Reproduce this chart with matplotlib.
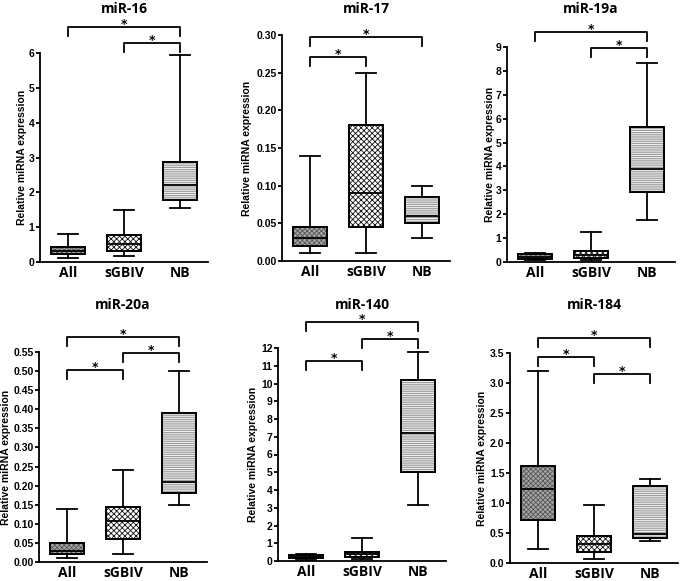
import matplotlib
matplotlib.use("Agg")
import matplotlib.pyplot as plt
from matplotlib.patches import PathPatch
from matplotlib.transforms import blended_transform_factory

# ---------------- data ----------------
categories = ['All', 'sGBIV', 'NB']
titles = ['miR-16', 'miR-17', 'miR-19a', 'miR-20a', 'miR-140', 'miR-184']

# each entry: [whisker low, Q1, median, Q3, whisker high] for All, sGBIV, NB
mir16 = [[0.11, 0.24, 0.33, 0.43, 0.81],
         [0.16, 0.33, 0.52, 0.77, 1.48],
         [1.55, 1.77, 2.22, 2.87, 5.93]]
mir17 = [[0.010, 0.020, 0.030, 0.045, 0.140],
         [0.010, 0.045, 0.090, 0.180, 0.250],
         [0.030, 0.050, 0.060, 0.085, 0.100]]
mir19a = [[0.10, 0.14, 0.21, 0.32, 0.39],
          [0.07, 0.18, 0.28, 0.46, 1.25],
          [1.75, 2.93, 3.90, 5.65, 8.35]]
mir20a = [[0.010, 0.020, 0.030, 0.050, 0.140],
          [0.020, 0.060, 0.108, 0.145, 0.240],
          [0.150, 0.180, 0.210, 0.390, 0.500]]
mir140 = [[0.05, 0.15, 0.25, 0.33, 0.40],
          [0.10, 0.25, 0.40, 0.50, 1.30],
          [3.15, 5.00, 7.20, 10.20, 11.75]]
mir184 = [[0.23, 0.71, 1.23, 1.62, 3.20],
          [0.06, 0.18, 0.32, 0.45, 0.97],
          [0.36, 0.41, 0.49, 1.28, 1.40]]

yticks16 = [0, 1, 2, 3, 4, 5, 6]
yticks17 = [0.00, 0.05, 0.10, 0.15, 0.20, 0.25, 0.30]
yticks19a = [0, 1, 2, 3, 4, 5, 6, 7, 8, 9]
yticks20a = [0.00, 0.05, 0.10, 0.15, 0.20, 0.25, 0.30, 0.35, 0.40, 0.45, 0.50, 0.55]
yticks140 = [0, 1, 2, 3, 4, 5, 6, 7, 8, 9, 10, 11, 12]
yticks184 = [0.0, 0.5, 1.0, 1.5, 2.0, 2.5, 3.0, 3.5]
tickfmt = ['{:.0f}', '{:.2f}', '{:.0f}', '{:.2f}', '{:.0f}', '{:.1f}']

# significance comparisons (index pairs into categories)
comparisons = [[(0, 2), (1, 2)],
               [(0, 2), (0, 1)],
               [(0, 2), (1, 2)],
               [(0, 2), (1, 2), (0, 1)],
               [(0, 2), (1, 2), (0, 1)],
               [(0, 2), (0, 1), (1, 2)]]

ylabel = 'Relative miRNA expression'

# ---------------- layout ----------------
W, H = 683, 581
fig = plt.figure(figsize=(W / 100, H / 100), dpi=100)

panel_px = [(40, 53, 262), (282, 35, 261), (507, 47, 262),
            (39, 352, 562), (278, 348, 561), (510, 353, 563)]
bracket_h = [[1.124, 1.048], [0.991, 0.902], [1.07, 0.995],
             [1.071, 0.995, 0.914], [1.122, 1.042, 0.939], [1.071, 0.981, 0.90]]
ylabel_x = [22, 247, 490, 6, 253, 482]
title_y = [9, 9, 9, 305, 305, 305]
AX_W = 168

datasets = [mir16, mir17, mir19a, mir20a, mir140, mir184]
tick_sets = [yticks16, yticks17, yticks19a, yticks20a, yticks140, yticks184]

styles = [dict(face='#a8a8a8', hatch='xxxxxxx', hcol='#555555'),
          dict(face='#ffffff', hatch='xxxxxx', hcol='#111111'),
          dict(face='#f2f2f2', hatch='---------', hcol='#8c8c8c')]

plt.rcParams['hatch.linewidth'] = 0.6
LW = 1.3
tick_font = dict(family=['Liberation Sans', 'DejaVu Sans'], weight='bold', size=7.5)
cat_font = dict(family=['Open Sans', 'DejaVu Sans'], weight='bold', size=10)

for k in range(6):
    x0, yt, yb = panel_px[k]
    ax = fig.add_axes([x0 / W, 1 - yb / H, AX_W / W, (yb - yt) / H])
    data = datasets[k]
    stats = []
    for i, d in enumerate(data):
        stats.append(dict(whislo=d[0], q1=d[1], med=d[2], q3=d[3], whishi=d[4],
                          fliers=[], label=categories[i]))
    bp = ax.bxp(stats, positions=[0, 1, 2], widths=0.62, capwidths=0.34,
                patch_artist=True, showfliers=False, manage_ticks=False,
                boxprops=dict(linewidth=LW, edgecolor='black'),
                whiskerprops=dict(linewidth=LW, color='black'),
                capprops=dict(linewidth=LW, color='black'),
                medianprops=dict(linewidth=LW, color='black', zorder=5))
    for i, box in enumerate(bp['boxes']):
        st = styles[i]
        box.set_facecolor(st['face'])
        box.set_zorder(2)
        path = box.get_path()
        hp = PathPatch(path, facecolor='none', edgecolor=st['hcol'], linewidth=0,
                       hatch=st['hatch'], zorder=2.5, transform=box.get_transform())
        ax.add_patch(hp)
        op = PathPatch(path, facecolor='none', edgecolor='black', linewidth=LW,
                       zorder=3, transform=box.get_transform())
        ax.add_patch(op)

    ticks = tick_sets[k]
    ax.set_xlim(-0.5, 2.5)
    ax.set_ylim(0, ticks[-1])
    ax.set_yticks(ticks)
    ax.set_yticklabels([tickfmt[k].format(t) for t in ticks], fontdict=tick_font)
    ax.set_xticks([0, 1, 2])
    ax.set_xticklabels(categories, fontdict=cat_font)
    ax.tick_params(axis='x', length=0, pad=3)
    ax.tick_params(axis='y', length=3, width=LW, pad=1)
    for s in ['top', 'right']:
        ax.spines[s].set_visible(False)
    for s in ['left', 'bottom']:
        ax.spines[s].set_linewidth(LW)

    tr = blended_transform_factory(ax.transData, ax.transAxes)
    leg = 9 / (yb - yt)
    for (i, j), h in zip(comparisons[k], bracket_h[k]):
        ax.plot([i, i, j, j], [h - leg, h, h, h - leg], transform=tr,
                color='black', lw=LW, clip_on=False)
        ax.annotate('*', xy=((i + j) / 2, h), xycoords=tr, xytext=(0, -0.5),
                    textcoords='offset points', ha='center', va='baseline',
                    fontsize=9, fontweight='bold', annotation_clip=False)

    cx = (x0 + AX_W / 2) / W
    fig.text(cx, 1 - title_y[k] / H, titles[k], ha='center', va='center',
             fontdict=cat_font)
    fig.text(ylabel_x[k] / W, 1 - ((yt + yb) / 2) / H, ylabel, rotation=90,
             ha='center', va='center', fontdict=tick_font)

fig.savefig('out.png', dpi=100)
